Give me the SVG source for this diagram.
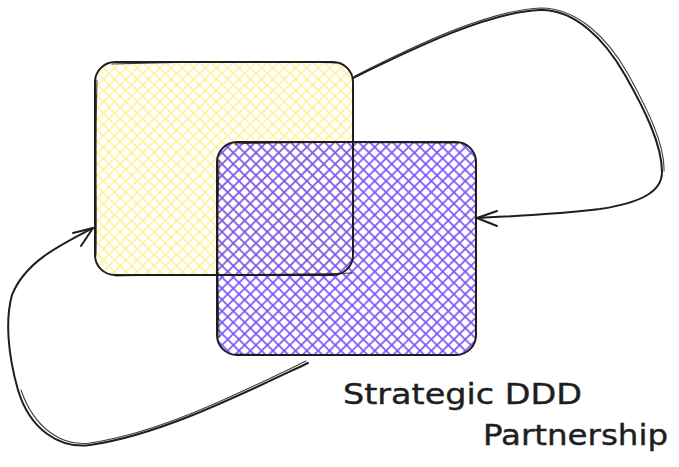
<svg xmlns="http://www.w3.org/2000/svg" width="679" height="467" viewBox="0 0 679 467">
<defs>
<pattern id="hy1" width="8" height="8" patternUnits="userSpaceOnUse" patternTransform="rotate(45)"><line x1="1" y1="0" x2="1" y2="8" stroke="#fff08f" stroke-width="1.4"/></pattern>
<pattern id="hy2" width="8" height="8" patternUnits="userSpaceOnUse" patternTransform="rotate(-45)"><line x1="1" y1="0" x2="1" y2="8" stroke="#fff08f" stroke-width="1.4"/></pattern>
<pattern id="hp1" width="8" height="8" patternUnits="userSpaceOnUse" patternTransform="rotate(45)"><line x1="1" y1="0" x2="1" y2="8" stroke="#7d55f5" stroke-width="1.7"/></pattern>
<pattern id="hp2" width="8" height="8" patternUnits="userSpaceOnUse" patternTransform="rotate(-45)"><line x1="1" y1="0" x2="1" y2="8" stroke="#7d55f5" stroke-width="1.7"/></pattern>
<style>
.ol{fill:none;stroke:#1e1e1e;stroke-width:2;stroke-linecap:round;stroke-linejoin:round}
.ol2{fill:none;stroke:#1e1e1e;stroke-width:1.1;stroke-linecap:round;opacity:.85}
.lbl{font-family:"DejaVu Sans","Liberation Sans",sans-serif;font-size:28px;fill:#1e1e1e;stroke:#1e1e1e;stroke-width:0.4}
</style>
</defs>
<g id="node-yellow">
<rect x="95" y="62" width="258" height="213" rx="20" fill="url(#hy1)"/>
<rect x="95" y="62" width="258" height="213" rx="20" fill="url(#hy2)"/>
</g>
<g id="node-purple">
<rect x="217" y="142" width="259" height="213" rx="20" fill="url(#hp1)"/>
<rect x="217" y="142" width="259" height="213" rx="20" fill="url(#hp2)"/>
</g>
<g id="outlines">
<rect class="ol" x="95" y="62" width="258" height="213" rx="20"/>
<path class="ol2" d="M112,64 C200,61 300,61 337,63 M97,80 C95,150 97,220 96,255 M115,276 C200,274 300,275 352,273"/>
<rect class="ol" x="217" y="142" width="259" height="213" rx="20"/>
<path class="ol2" d="M235,144 C300,141 400,143 458,143 M219,160 C217,230 218,300 219,337 M237,354 C320,356 420,354 460,355"/>
</g>
<g id="connectors">
<path class="ol" d="M353,78 C420,45 490,12 540,10 C575,9 605,40 625,75 C645,110 662,145 662,172 C662,192 640,203 600,209 C560,214 520,216 477,218"/>
<path class="ol2" d="M355,76 C420,43 490,10 541,8 C577,8 608,38 628,74 C648,110 665,145 664,171"/>
<path class="ol" d="M477,218 L497,211 M477,218 L497,226"/>
<path class="ol" d="M308,363 C240,395 160,435 90,445 C60,449 30,430 18,390 C8,355 5,320 12,295 C25,262 60,245 93,228"/>
<path class="ol2" d="M306,361 C240,393 160,433 90,443 C62,447 34,428 21,390"/>
<path class="ol" d="M93,228 L73,233 M93,228 L81,246"/>
</g>
<g id="label">
<text class="lbl" x="343" y="404" textLength="239" lengthAdjust="spacingAndGlyphs">Strategic DDD</text>
<text class="lbl" x="483" y="445" textLength="185" lengthAdjust="spacingAndGlyphs">Partnership</text>
</g>
</svg>
